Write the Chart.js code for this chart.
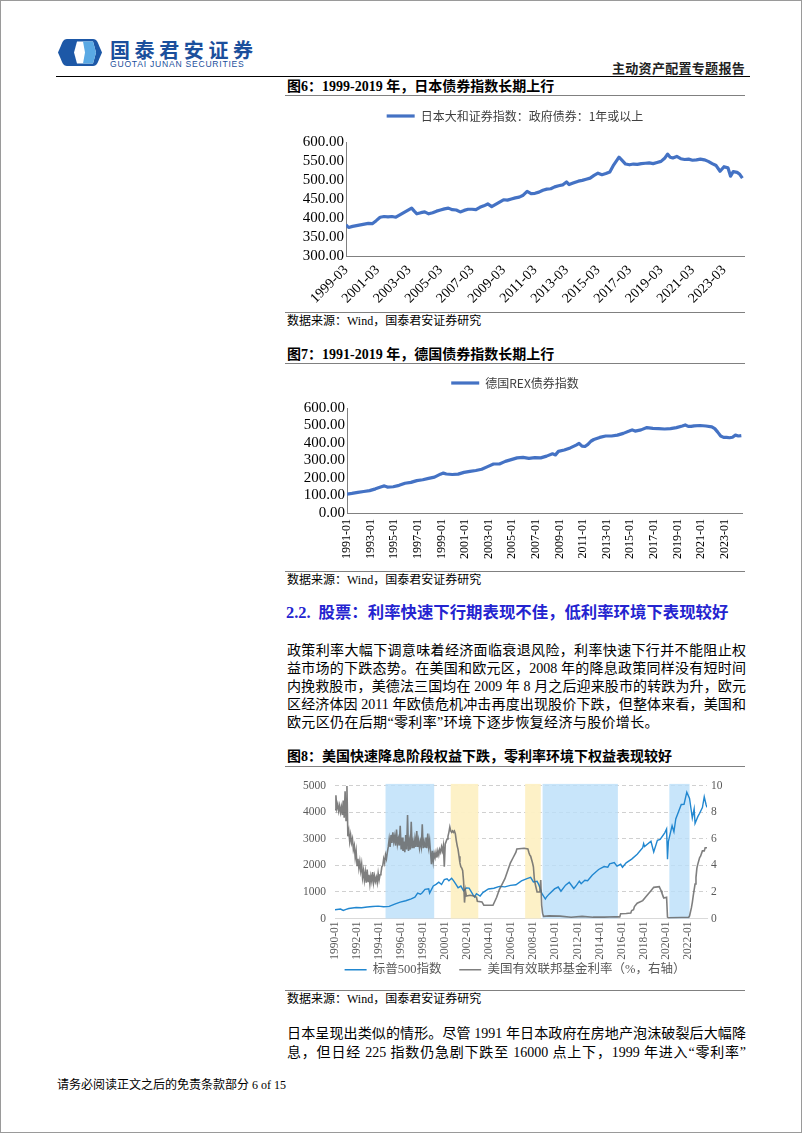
<!DOCTYPE html>
<html lang="zh-CN">
<head>
<meta charset="utf-8">
<title>主动资产配置专题报告</title>
<script src="https://cdn.jsdelivr.net/npm/chart.js@4.4.1/dist/chart.umd.min.js"></script>
<style>
  html, body { margin: 0; padding: 0; background: #fff; }
  body { position: relative; width: 802px; height: 1133px; overflow: hidden;
         font-family: "Liberation Serif", "Noto Sans CJK SC", serif; color: #000; }
  .frame { position: absolute; left: 0; top: 0; width: 802px; height: 1133px;
           box-sizing: border-box; border: 1px solid #9a9a9a; }
  .abs { position: absolute; white-space: nowrap; }
  .brand-cn { left: 110px; top: 40px; font: bold 20px/20px "Noto Sans CJK SC"; color: #1b4f9c; letter-spacing: 4.6px; }
  .brand-en { left: 110px; top: 60px; font: 8.6px/8px "Liberation Sans", sans-serif; color: #1b4f9c; letter-spacing: 0.75px; }
  .head-rule { left: 56px; top: 76px; width: 694px; border-top: 1.5px solid #000; }
  .report { left: 612px; top: 61px; font: bold 13px/14px "Noto Sans CJK SC"; letter-spacing: 0.3px; color: #222; }
  .fig-title { left: 287px; font-weight: bold; font-size: 14px; line-height: 14px; }
  .rule { left: 285px; width: 460px; border-top: 1px solid #808080; }
  .source { left: 287px; font-size: 12px; line-height: 14px; }
  .section { left: 286px; font-weight: bold; font-size: 16.4px; line-height: 20px; color: #2424d0; }
  .section .num { margin-right: 8px; }
  .para { position: absolute; left: 287px; width: 459px; font-size: 14px; line-height: 18px;
          text-align: justify; text-align-last: justify; }
  .para.last { text-align-last: left; letter-spacing: 0.35px; }
  .footer { left: 57px; top: 1078px; font-size: 12px; line-height: 14px; }
  canvas { position: absolute; }
</style>
</head>
<body>
<div class="frame"></div>

<svg class="abs" style="left:58px;top:39px" width="44" height="27" viewBox="0 0 44 27">
  <path d="M9 0 H35 Q38 0 39.5 3 L44 13.5 L39.5 24 Q38 27 35 27 H9 Q6 27 4.5 24 L0 13.5 L4.5 3 Q6 0 9 0Z" fill="#1d58a7"/>
  <path d="M19 2.5 H35 L38 13.5 L35 24.5 H19 L16 13.5Z" fill="#ffffff"/>
  <path d="M25 2.5 H35 L38 13.5 L35 24.5 H25 L27 13.5Z" fill="#5aa9e4"/>
</svg>
<div class="abs brand-cn">国泰君安证券</div>
<div class="abs brand-en">GUOTAI JUNAN SECURITIES</div>
<div class="abs report">主动资产配置专题报告</div>
<div class="abs head-rule"></div>

<div class="abs fig-title" style="top:80px">图6：1999-2019 年，日本债券指数长期上行</div>
<div class="abs rule" style="top:95px"></div>
<canvas id="jpChart" width="460" height="205" style="left:285px;top:100px"></canvas>
<div class="abs rule" style="top:312px"></div>
<div class="abs source" style="top:314px">数据来源：Wind，国泰君安证券研究</div>

<div class="abs fig-title" style="top:348px">图7：1991-2019 年，德国债券指数长期上行</div>
<div class="abs rule" style="top:363px"></div>
<canvas id="deChart" width="460" height="201" style="left:285px;top:367px"></canvas>
<div class="abs rule" style="top:571px"></div>
<div class="abs source" style="top:573px">数据来源：Wind，国泰君安证券研究</div>

<div class="abs section" style="top:603px"><span class="num">2.2.</span>股票：利率快速下行期表现不佳，低利率环境下表现较好</div>
<div class="para" style="top:642px">政策利率大幅下调意味着经济面临衰退风险，利率快速下行并不能阻止权</div>
<div class="para" style="top:660px">益市场的下跌态势。在美国和欧元区，2008 年的降息政策同样没有短时间</div>
<div class="para" style="top:678px">内挽救股市，美德法三国均在 2009 年 8 月之后迎来股市的转跌为升，欧元</div>
<div class="para" style="top:696px">区经济体因 2011 年欧债危机冲击再度出现股价下跌，但整体来看，美国和</div>
<div class="para last" style="top:714px">欧元区仍在后期“零利率”环境下逐步恢复经济与股价增长。</div>

<div class="abs fig-title" style="top:750px">图8：美国快速降息阶段权益下跌，零利率环境下权益表现较好</div>
<div class="abs rule" style="top:766px"></div>
<canvas id="usChart" width="460" height="216" style="left:285px;top:770px"></canvas>
<div class="abs rule" style="top:990px"></div>
<div class="abs source" style="top:992px">数据来源：Wind，国泰君安证券研究</div>

<div class="para" style="top:1025px">日本呈现出类似的情形。尽管 1991 年日本政府在房地产泡沫破裂后大幅降</div>
<div class="para" style="top:1044px">息，但日经 225 指数仍急剧下跌至 16000 点上下，1999 年进入“零利率”</div>

<div class="abs footer">请务必阅读正文之后的免责条款部分 6 of 15</div>

<script>
// ---- 图6 日本债券指数 ----
var jpStart = "1999-03";
var jpDates = ["1999-03","1999-05","1999-08","1999-11","2000-02","2000-05","2000-08","2000-11",
  "2001-02","2001-05","2001-08","2001-11","2002-02","2002-05","2002-08","2002-11",
  "2003-02","2003-05","2003-07","2003-09","2003-12","2004-03","2004-06","2004-09","2004-12",
  "2005-03","2005-06","2005-09","2005-12","2006-03","2006-06","2006-09","2006-12",
  "2007-03","2007-06","2007-09","2007-12","2008-03","2008-06","2008-09","2008-12",
  "2009-03","2009-06","2009-09","2009-12","2010-03","2010-06","2010-09","2010-12",
  "2011-03","2011-06","2011-09","2011-12","2012-03","2012-06","2012-09","2012-12",
  "2013-03","2013-05","2013-08","2013-12","2014-03","2014-06","2014-09","2014-12",
  "2015-03","2015-06","2015-09","2015-12","2016-03","2016-07","2016-09","2016-12",
  "2017-03","2017-06","2017-09","2017-12","2018-03","2018-06","2018-09","2018-12",
  "2019-03","2019-06","2019-08","2019-10","2019-12","2020-03","2020-06","2020-09","2020-12",
  "2021-03","2021-06","2021-09","2021-12","2022-03","2022-06","2022-09","2022-12",
  "2023-01","2023-03","2023-06","2023-08","2023-10","2024-01","2024-03","2024-05"];
var jpValues = [382,375,378,380,382,384,386,385,
  393,402,404,403,404,402,408,414,
  420,426,418,411,414,416,411,414,418,
  421,424,426,422,421,416,420,423,
  423,422,428,432,437,430,436,442,
  448,447,450,453,455,460,470,464,
  465,468,473,476,477,482,485,487,
  495,488,492,497,499,502,505,512,
  518,514,517,521,540,560,553,542,
  540,542,541,543,544,545,543,546,
  549,558,568,560,558,562,556,554,555,
  552,553,555,553,549,543,538,523,
  527,535,532,510,522,520,515,505];
var jpTicksY = [300, 350, 400, 450, 500, 550, 600];

// ---- 图7 德国REX债券指数 ----
var deStart = "1991-01";
var deDates = ["1991-01","1991-06","1991-12","1992-06","1992-12","1993-06","1993-12","1994-03","1994-06","1994-12",
  "1995-06","1995-12","1996-06","1996-12","1997-06","1997-12","1998-06","1998-12","1999-03","1999-06","1999-12",
  "2000-06","2000-12","2001-06","2001-12","2002-06","2002-12","2003-06","2003-12","2004-06","2004-12",
  "2005-06","2005-12","2006-06","2006-12","2007-06","2007-12","2008-06","2008-09","2008-12","2009-06","2009-12",
  "2010-06","2010-09","2010-12","2011-03","2011-06","2011-09","2011-12","2012-06","2012-12","2013-06","2013-12",
  "2014-06","2014-12","2015-03","2015-06","2015-12","2016-06","2016-12","2017-06","2017-12","2018-06","2018-12",
  "2019-06","2019-09","2019-12","2020-03","2020-06","2020-12","2021-06","2021-12","2022-03","2022-06","2022-09",
  "2022-12","2023-03","2023-06","2023-09","2023-12","2024-03","2024-06"];
var deValues = [108,112,118,123,128,138,150,155,148,150,
  158,170,175,185,190,198,205,222,228,223,220,
  222,232,238,243,250,265,280,280,295,305,
  315,318,312,316,315,325,338,332,352,360,372,
  388,398,382,380,392,410,420,432,440,440,445,
  455,468,475,468,475,488,484,482,480,482,488,
  497,503,495,495,498,500,497,492,482,462,440,
  432,432,430,433,445,440,442];

// ---- 图8 标普500 与 美国有效联邦基金利率 ----
var usStart = "1990-01";
var spxDates = ["1990-01","1990-07","1990-10","1991-01","1991-04","1991-12","1992-06","1992-12","1993-06","1993-12",
  "1994-06","1994-12","1995-06","1995-12","1996-06","1996-12","1997-04","1997-07","1997-10","1997-12",
  "1998-03","1998-07","1998-08","1998-12","1999-03","1999-06","1999-09","1999-12","2000-03","2000-05",
  "2000-08","2000-10","2000-12","2001-03","2001-06","2001-09","2001-12","2002-03","2002-07","2002-09",
  "2002-11","2003-03","2003-06","2003-12","2004-06","2004-12","2005-06","2005-12","2006-06","2006-12",
  "2007-06","2007-10","2008-01","2008-05","2008-07","2008-10","2008-11","2009-02","2009-03","2009-06",
  "2009-12","2010-04","2010-07","2010-12","2011-04","2011-09","2011-12","2012-03","2012-05","2012-09",
  "2012-12","2013-05","2013-12","2014-06","2014-10","2014-12","2015-05","2015-08","2015-12","2016-02",
  "2016-06","2016-12","2017-06","2017-12","2018-01","2018-02","2018-09","2018-12","2019-04","2019-07",
  "2019-12","2020-02","2020-03","2020-04","2020-08","2020-10","2020-12","2021-06","2021-09","2021-12",
  "2022-03","2022-06","2022-08","2022-09","2022-12","2023-02","2023-05","2023-07","2023-09","2023-10"];
var spxValues = [330,356,304,343,375,417,408,435,450,466,
  444,459,544,615,670,740,801,954,914,970,
  1101,1120,957,1229,1286,1372,1282,1469,1498,1420,
  1517,1429,1320,1160,1224,1040,1148,1147,911,815,
  936,848,975,1112,1140,1212,1191,1248,1270,1418,
  1503,1549,1378,1400,1267,968,896,735,797,919,
  1115,1187,1030,1258,1364,1131,1258,1408,1310,1441,
  1426,1631,1848,1960,1937,2059,2107,1972,2044,1932,
  2099,2239,2423,2674,2824,2714,2914,2507,2946,2980,
  3231,3380,2237,2912,3500,3270,3756,4298,4308,4766,
  4530,3785,4130,3585,3840,3970,4180,4588,4288,4190];

var fedDates = ["1990-01","1990-02","1990-03","1990-04","1990-05","1990-06","1990-07","1990-08","1990-09","1990-10","1990-11","1990-12",
  "1991-01","1991-02","1991-03","1991-04","1991-05","1991-06","1991-07","1991-08","1991-09","1991-10","1991-11","1991-12",
  "1992-01","1992-02","1992-03","1992-04","1992-05","1992-06","1992-07","1992-08","1992-09","1992-10","1992-11","1992-12",
  "1993-01","1993-02","1993-03","1993-04","1993-05","1993-06","1993-07","1993-08","1993-09","1993-10","1993-11","1993-12",
  "1994-01","1994-02","1994-03","1994-04","1994-05","1994-06","1994-07","1994-08","1994-09","1994-10","1994-11","1994-12",
  "1995-01","1995-02","1995-03","1995-04","1995-05","1995-06","1995-07","1995-08","1995-09","1995-10","1995-11","1995-12",
  "1996-01","1996-02","1996-03","1996-04","1996-05","1996-06","1996-07","1996-08","1996-09","1996-10","1996-11","1996-12",
  "1997-01","1997-02","1997-03","1997-04","1997-05","1997-06","1997-07","1997-08","1997-09","1997-10","1997-11","1997-12",
  "1998-01","1998-02","1998-03","1998-04","1998-05","1998-06","1998-07","1998-08","1998-09","1998-10","1998-11","1998-12",
  "1999-01","1999-02","1999-03","1999-04","1999-05","1999-06","1999-07","1999-08","1999-09","1999-10","1999-11","1999-12",
  "2000-01","2000-02","2000-03","2000-04","2000-05","2000-06","2000-07","2000-08","2000-09","2000-10","2000-11","2000-12",
  "2001-01","2001-02","2001-03","2001-04","2001-05","2001-06","2001-07","2001-08","2001-09","2001-10","2001-11","2001-12",
  "2002-04","2002-08","2002-11","2002-12","2003-05","2003-07","2004-05","2004-07","2004-09","2004-12",
  "2005-03","2005-06","2005-09","2005-12","2006-03","2006-06","2006-07","2007-03","2007-07","2007-08",
  "2007-09","2007-10","2007-12","2008-01","2008-02","2008-03","2008-05","2008-08","2008-09","2008-10",
  "2008-11","2008-12","2009-06","2010-06","2011-06","2012-06","2013-06","2014-06","2015-06","2015-11",
  "2015-12","2016-06","2016-11","2016-12","2017-02","2017-03","2017-06","2017-12","2018-03","2018-06",
  "2018-09","2018-12","2019-06","2019-08","2019-09","2019-11","2020-02","2020-03","2020-04","2021-06",
  "2022-02","2022-03","2022-05","2022-06","2022-07","2022-09","2022-10","2022-11","2022-12","2023-02",
  "2023-03","2023-05","2023-07","2023-08","2023-10"];
var fedValues = [8.2,9.3,8.3,8.6,8.1,8.5,8.0,8.4,7.8,8.9,7.6,9.6,
  7.4,10.0,6.2,6.6,5.8,6.3,5.7,6.0,5.2,5.5,4.6,5.1,
  4.0,4.5,3.8,4.3,3.6,4.1,3.1,3.6,2.9,3.5,2.7,3.7,
  2.8,3.3,2.6,3.2,2.8,3.5,2.7,3.2,2.8,3.1,2.7,3.4,
  2.9,3.3,3.4,3.9,4.0,4.5,4.2,4.8,4.5,5.0,5.4,6.0,
  5.4,6.3,5.7,6.5,5.8,6.2,5.5,6.7,5.6,6.0,5.5,7.0,
  5.2,6.1,5.1,5.8,5.0,6.3,5.2,7.8,5.1,5.8,5.2,7.3,
  5.3,5.8,5.3,6.0,5.4,6.6,5.4,5.9,5.3,5.8,5.4,7.1,
  5.3,5.8,5.4,6.1,5.3,6.4,5.4,5.9,5.0,4.1,5.1,4.3,
  4.9,4.6,5.0,4.6,5.1,4.8,5.2,5.0,5.4,5.1,5.5,3.9,
  5.6,5.8,6.0,6.2,6.5,6.9,6.6,6.5,6.6,6.5,6.6,6.4,
  5.9,5.5,5.2,4.7,4.2,3.9,3.8,3.6,2.8,1.2,2.1,1.7,
  1.75,1.7,1.6,1.3,1.25,1.0,1.0,1.3,1.6,2.2,
  2.6,3.0,3.6,4.2,4.6,5.0,5.25,5.3,5.25,5.0,
  4.8,4.7,4.2,3.9,3.0,2.6,2.0,2.0,2.9,1.0,
  0.4,0.16,0.2,0.18,0.1,0.16,0.1,0.1,0.13,0.12,
  0.36,0.38,0.41,0.6,0.66,0.9,1.15,1.35,1.6,1.85,
  2.1,2.35,2.4,2.1,1.9,1.55,1.6,0.1,0.05,0.08,
  0.08,0.2,0.8,1.2,1.7,2.6,3.1,3.8,4.1,4.6,
  4.7,5.1,5.1,5.33,5.33];

var bandStarts = ["1994-08", "2000-07", "2007-04", "2008-11", "2020-05"];
var bandEnds   = ["1999-01", "2003-01", "2008-09", "2015-09", "2022-03"];
var bandKinds  = ["blue", "yellow", "yellow", "blue", "blue"];

// ---- helpers ----
var SERIF = "'Liberation Serif', 'Noto Sans CJK SC', serif";
var CJK = "'Noto Sans CJK SC', sans-serif";

function monthsSince(start, d) {
  var a = start.split("-").map(Number), b = d.split("-").map(Number);
  return (b[0] - a[0]) * 12 + (b[1] - a[1]);
}
function monthLabel(start, n) {
  var a = start.split("-").map(Number);
  var t = a[0] * 12 + (a[1] - 1) + n;
  var y = Math.floor(t / 12), m = t % 12 + 1;
  return y + "-" + (m < 10 ? "0" + m : m);
}
function points(start, dates, values) {
  return dates.map(function (d, i) { return { x: monthsSince(start, d), y: values[i] }; });
}
// pushes the plot down under the legend without moving the legend itself
function legendGap(gap) {
  return {
    id: "legendGap",
    beforeLayout: function (chart) {
      var lg = chart.legend;
      if (lg && !lg._gapPatched) {
        var fit = lg.fit;
        lg.fit = function () { fit.call(this); this.height += gap; };
        lg._gapPatched = true;
      }
    }
  };
}

Chart.defaults.animation = false;
Chart.defaults.devicePixelRatio = 1;
Chart.defaults.responsive = false;
Chart.defaults.plugins.tooltip.enabled = false;
Chart.defaults.elements.point.radius = 0;

function bondChart(id, start, dates, values, label, opt) {
  new Chart(document.getElementById(id), {
    type: "line",
    data: {
      datasets: [{
        label: label,
        data: points(start, dates, values),
        borderColor: "#4472C4",
        backgroundColor: "#4472C4",
        borderWidth: 3.2,
        borderJoinStyle: "round",
        tension: 0
      }]
    },
    options: {
      layout: { padding: 0 },
      plugins: {
        legend: {
          position: "top",
          labels: {
            usePointStyle: true, pointStyle: "line", pointStyleWidth: 28,
            padding: 10, color: "#404040",
            font: { family: CJK, size: opt.legendSize }
          }
        }
      },
      scales: {
        x: {
          type: "linear", min: 0, max: opt.xMax,
          grid: { display: false, drawTicks: false },
          border: { display: true, color: "#808080" },
          afterFit: function (s) { s.height = opt.xHeight; },
          ticks: {
            stepSize: 24, includeBounds: false, autoSkip: false,
            minRotation: opt.rot, maxRotation: opt.rot, padding: 6,
            color: "#000", font: { family: SERIF, size: opt.xFont },
            callback: function (v) { return monthLabel(start, v); }
          }
        },
        y: {
          min: opt.yMin, max: 600,
          grid: { display: false, drawTicks: false },
          border: { display: true, color: "#808080" },
          afterFit: function (s) { s.width = opt.yWidth; },
          ticks: {
            stepSize: opt.yStep, autoSkip: false, padding: 2, color: "#000",
            font: { family: SERIF, size: 15 },
            callback: function (v) { return v.toFixed(2); }
          }
        }
      }
    },
    plugins: [legendGap(opt.gap)]
  });
}

bondChart("jpChart", jpStart, jpDates, jpValues, "日本大和证券指数：政府债券：1年或以上",
  { xMax: 304, xHeight: 49, rot: 45, xFont: 14, yMin: jpTicksY[0], yStep: 50, yWidth: 61, gap: 10, legendSize: 12 });
bondChart("deChart", deStart, deDates, deValues, "德国REX债券指数",
  { xMax: 402, xHeight: 55, rot: 90, xFont: 12, yMin: 0, yStep: 100, yWidth: 62, gap: 9, legendSize: 12 });

var bandColors = { blue: "rgba(186, 222, 249, 0.8)", yellow: "rgba(253, 240, 196, 0.95)" };
var bandsPlugin = {
  id: "bands",
  beforeDatasetsDraw: function (chart) {
    var ctx = chart.ctx, xs = chart.scales.x, area = chart.chartArea;
    ctx.save();
    bandStarts.forEach(function (s, i) {
      var x1 = xs.getPixelForValue(monthsSince(usStart, s));
      var x2 = xs.getPixelForValue(monthsSince(usStart, bandEnds[i]));
      ctx.fillStyle = bandColors[bandKinds[i]];
      ctx.fillRect(x1, area.top - 2, x2 - x1, area.bottom - area.top + 2);
    });
    ctx.restore();
  }
};

new Chart(document.getElementById("usChart"), {
  type: "line",
  data: {
    datasets: [{
      // trailing ideographic space widens the gap before the second legend item
      label: "标普500指数\u3000 ",
      data: points(usStart, spxDates, spxValues),
      yAxisID: "y",
      borderColor: "#2187d0",
      backgroundColor: "#2187d0",
      borderWidth: 1.4,
      order: 1
    }, {
      label: "美国有效联邦基金利率（%，右轴）",
      data: points(usStart, fedDates, fedValues),
      yAxisID: "y1",
      borderColor: "rgba(105, 105, 105, 0.85)",
      backgroundColor: "rgba(105, 105, 105, 0.85)",
      borderWidth: 1.6,
      order: 0
    }]
  },
  options: {
    layout: { padding: { top: 13, left: 0, right: 0, bottom: 0 } },
    plugins: {
      legend: {
        position: "bottom",
        labels: {
          usePointStyle: true, pointStyle: "line", pointStyleWidth: 22,
          padding: 2, color: "#595959",
          font: { family: SERIF, size: 12.5 },
          sort: function (a, b) { return a.datasetIndex - b.datasetIndex; }
        }
      }
    },
    scales: {
      x: {
        type: "linear", min: 0, max: 405,
        grid: { display: false, drawTicks: false },
        border: { display: true, color: "#d9d9d9" },
        afterFit: function (s) { s.height = 43; },
        ticks: {
          stepSize: 24, includeBounds: false, autoSkip: false,
          minRotation: 90, maxRotation: 90, padding: 3,
          color: "#595959", font: { family: SERIF, size: 11.5 },
          callback: function (v) { return monthLabel(usStart, v); }
        }
      },
      y: {
        position: "left", min: 0, max: 5000,
        grid: { color: "#d0d0d0", drawTicks: false },
        border: { display: false, dash: [4, 3] },
        afterFit: function (s) { s.width = 50; },
        ticks: { stepSize: 1000, autoSkip: false, padding: 9, color: "#595959",
                 font: { family: SERIF, size: 11.5 },
                 callback: function (v) { return String(v); } }
      },
      y1: {
        position: "right", min: 0, max: 10,
        grid: { drawOnChartArea: false, drawTicks: false },
        border: { display: false },
        afterFit: function (s) { s.width = 38; },
        ticks: { stepSize: 2, autoSkip: false, padding: 4, color: "#595959",
                 font: { family: SERIF, size: 11.5 } }
      }
    }
  },
  plugins: [bandsPlugin]
});
</script>
</body>
</html>
